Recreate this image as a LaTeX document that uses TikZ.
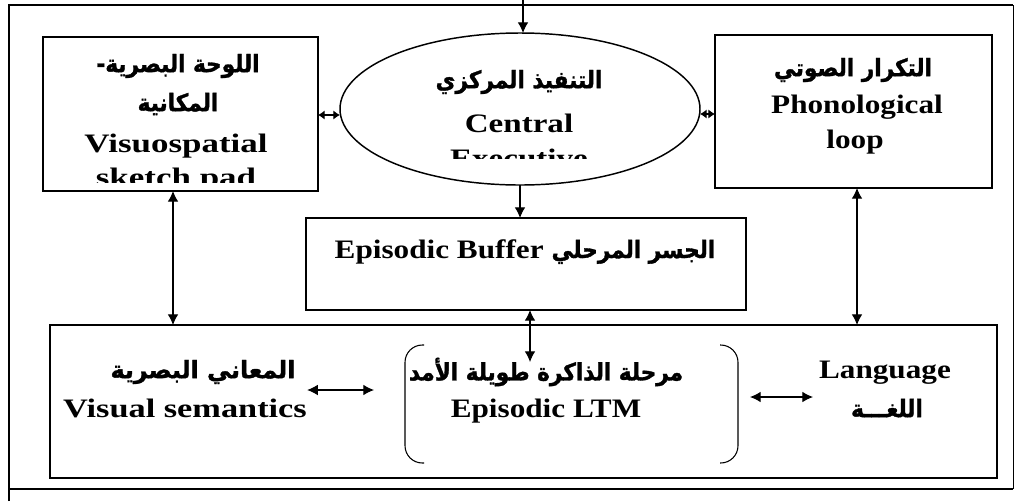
\documentclass[tikz,border=0pt]{standalone}
\usepackage{fontspec}
\setmainfont{Liberation Serif}[FakeStretch=1.17]
\newfontfamily\arabicfont[Script=Arabic,FakeBold=1.3,FakeStretch=0.9]{DejaVu Sans}
\TeXXeTstate=1
\usetikzlibrary{arrows.meta,shapes.geometric}
\newcommand\AR[1]{{\arabicfont\bfseries\fontsize{18}{22}\selectfont\beginR #1\endR}}
\newcommand\wide[2]{\scalebox{#1}[1]{#2}}
\newcommand\pxu{0.75pt}
\begin{document}
\begin{tikzpicture}[x=0.75pt,y=-0.75pt,
  box/.style={draw,line width=1.1pt,inner sep=0pt,outer sep=0pt},
  txt/.style={font=\bfseries\fontsize{20}{24}\selectfont,inner sep=0pt,anchor=base},
  artxt/.style={inner sep=0pt},
  arr/.style={line width=0.8pt,-{Latex[length=8pt,width=8pt]}},
  darr/.style={line width=0.8pt,{Latex[length=8pt,width=8pt]}-{Latex[length=8pt,width=8pt]}},
  sdarr/.style={line width=0.9pt,{Latex[length=5pt,width=7pt]}-{Latex[length=5pt,width=7pt]}},
  frame/.style={line width=2.2pt},
  paren/.style={line width=0.8pt,rounded corners=13pt}]
\useasboundingbox (0,0) rectangle (1020,501);
% outer frame
\draw[frame] (9,501) -- (9,5) -- (1013,5);
\draw[line width=0.6pt] (1013,5) -- (1013,489);
\draw[frame] (9,489) -- (1013,489);
% boxes
\node[box,minimum width=275*\pxu,minimum height=154*\pxu] (vsp) at (180.5,114) {};
\node[box,ellipse,minimum width=360*\pxu,minimum height=152*\pxu] (ce) at (520,109) {};
\node[box,minimum width=277*\pxu,minimum height=153*\pxu] (pl) at (853.5,111.5) {};
\node[box,minimum width=440*\pxu,minimum height=92*\pxu] (eb) at (526,264) {};
\node[box,minimum width=947*\pxu,minimum height=153*\pxu] (bot) at (523.5,401.5) {};
% visuospatial texts
\node[artxt] (vspar1) at (178,66) {\AR{اللوحة البصرية-}};
\node[artxt] (vspar2) at (178,104) {\AR{المكانية}};
\node[txt] (vspen1) at (176,152) {\wide{1.12}{Visuospatial}};
\begin{scope}
  \clip (43,160) rectangle (318,182);
  \node[txt] (vspen2) at (176,186) {\wide{1.12}{sketch pad}};
\end{scope}
% central executive texts
\node[artxt] (cear) at (519,82) {\AR{التنفيذ المركزي}};
\node[txt] (ceen1) at (519,132) {\wide{1.06}{Central}};
\begin{scope}
  \clip (340,140) rectangle (700,158);
  \node[txt] (ceen2) at (519,167) {\wide{1.06}{Executive}};
\end{scope}
% phonological loop texts
\node[artxt] (plar) at (853,70) {\AR{التكرار الصوتي}};
\node[txt] (plen1) at (857,113) {Phonological};
\node[txt] (plen2) at (855,148) {loop};
% episodic buffer
\node[txt] (ebt) at (525,258) {Episodic Buffer\hspace{0.3em}\AR{الجسر المرحلي}};
% bottom texts
\node[artxt] (vsar) at (203,372) {\wide{1.1}{\AR{المعاني البصرية}}};
\node[txt] (vsen) at (185,417) {\wide{1.1}{Visual semantics}};
\node[artxt] (ltmar) at (546,372) {\AR{مرحلة الذاكرة طويلة الأمد}};
\node[txt] (ltmen) at (546,417) {Episodic LTM};
\node[txt] (lgen) at (885,378) {Language};
\node[artxt] (lgar) at (887,408) {\AR{اللغـــة}};
% LTM brackets
\draw[paren] (424,345) -- (405,345) -- (405,463) -- (424,463);
\draw[paren] (720,345) -- (738,345) -- (738,463) -- (720,463);
% connectors
\coordinate (xl) at (173,0);
\coordinate (xr) at (857,0);
\coordinate (topin) at (523,0);
\coordinate (ltmtop) at (530,362);
\coordinate (yl) at (0,115);
\coordinate (yr) at (0,114);
\coordinate (vsa) at (374,390);
\coordinate (lga1) at (750,397);
\coordinate (lga2) at (813,397);
\draw[arr] (topin) -- (topin |- ce.north);
\draw[sdarr] (vsp.east |- yl) -- (ce.west |- yl);
\draw[sdarr] (ce.east |- yr) -- (pl.west |- yr);
\draw[arr] (ce.south) -- (ce.south |- eb.north);
\draw[darr] (vsp.south -| xl) -- (bot.north -| xl);
\draw[darr] (pl.south -| xr) -- (bot.north -| xr);
\draw[darr] (eb.south -| ltmtop) -- (ltmtop);
\draw[darr] (vsen.east |- vsa) -- (vsa);
\draw[darr] (lga1) -- (lga2);
\end{tikzpicture}
\end{document}
